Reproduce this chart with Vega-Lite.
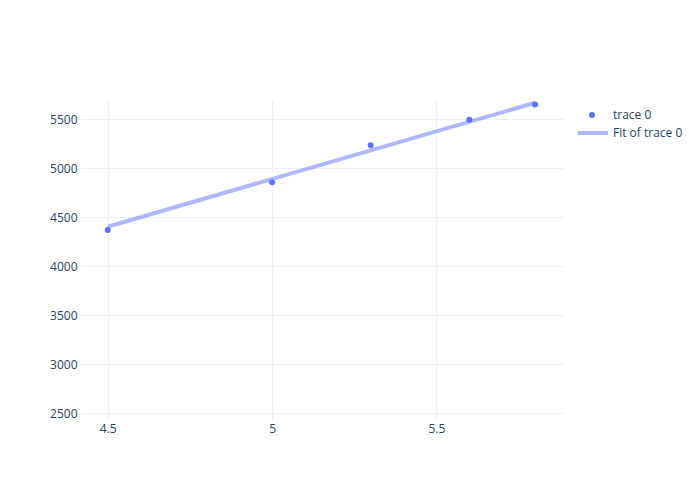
{
  "$schema": "https://vega.github.io/schema/vega-lite/v6.json",
  "width": 483,
  "height": 320,
  "autosize": "none",
  "padding": {"left": 80, "top": 100, "right": 137, "bottom": 80},
  "background": "white",
  "config": {
    "view": {"stroke": null},
    "font": "Open Sans",
    "axis": {
      "domain": false,
      "ticks": false,
      "tickSize": 0,
      "grid": true,
      "gridColor": "#ebf0f8",
      "gridWidth": 1,
      "labelFont": "Open Sans",
      "labelFontSize": 12,
      "labelColor": "#2a3f5f",
      "title": null
    },
    "legend": {
      "labelFont": "Open Sans",
      "labelFontSize": 12,
      "labelColor": "#2a3f5f",
      "title": null,
      "padding": 0
    }
  },
  "datasets": {
    "points": [
      {"x": 4.5, "y": 4370, "series": "trace 0"},
      {"x": 5.0, "y": 4857, "series": "trace 0"},
      {"x": 5.3, "y": 5235, "series": "trace 0"},
      {"x": 5.6, "y": 5496, "series": "trace 0"},
      {"x": 5.8, "y": 5652, "series": "trace 0"}
    ],
    "fit": [
      {"x": 4.5, "y": 4404, "series": "Fit of trace 0"},
      {"x": 5.8, "y": 5669, "series": "Fit of trace 0"}
    ]
  },
  "layer": [
    {
      "data": {"name": "fit"},
      "mark": {"type": "line", "strokeWidth": 4, "opacity": 0.5, "clip": true},
      "encoding": {
        "x": {"field": "x", "type": "quantitative", "scale": {"domain": [4.4157, 5.885], "nice": false, "zero": false},
              "axis": {"values": [4.5, 5, 5.5], "format": "~g", "labelPadding": 3}},
        "y": {"field": "y", "type": "quantitative", "scale": {"domain": [2432, 5697], "nice": false, "zero": false},
              "axis": {"values": [2500, 3000, 3500, 4000, 4500, 5000, 5500], "format": "d", "labelPadding": 3}},
        "stroke": {"field": "series", "type": "nominal",
          "scale": {"range": ["#636efa"]},
          "legend": {
            "orient": "none",
            "legendX": 496,
            "legendY": 16,
            "symbolType": "stroke",
            "symbolSize": 900,
            "symbolStrokeWidth": 4,
            "labelOffset": 3
          }
        }
      }
    },
    {
      "data": {"name": "points"},
      "mark": {"type": "point", "filled": true, "size": 36, "opacity": 1},
      "encoding": {
        "x": {"field": "x", "type": "quantitative"},
        "y": {"field": "y", "type": "quantitative"},
        "fill": {"field": "series", "type": "nominal",
          "scale": {"range": ["#636efa"]},
          "legend": {
            "orient": "none",
            "legendX": 506,
            "legendY": 9,
            "symbolType": "circle",
            "symbolSize": 36,
            "symbolStrokeWidth": 0,
            "labelOffset": 15
          }
        }
      }
    }
  ]
}
